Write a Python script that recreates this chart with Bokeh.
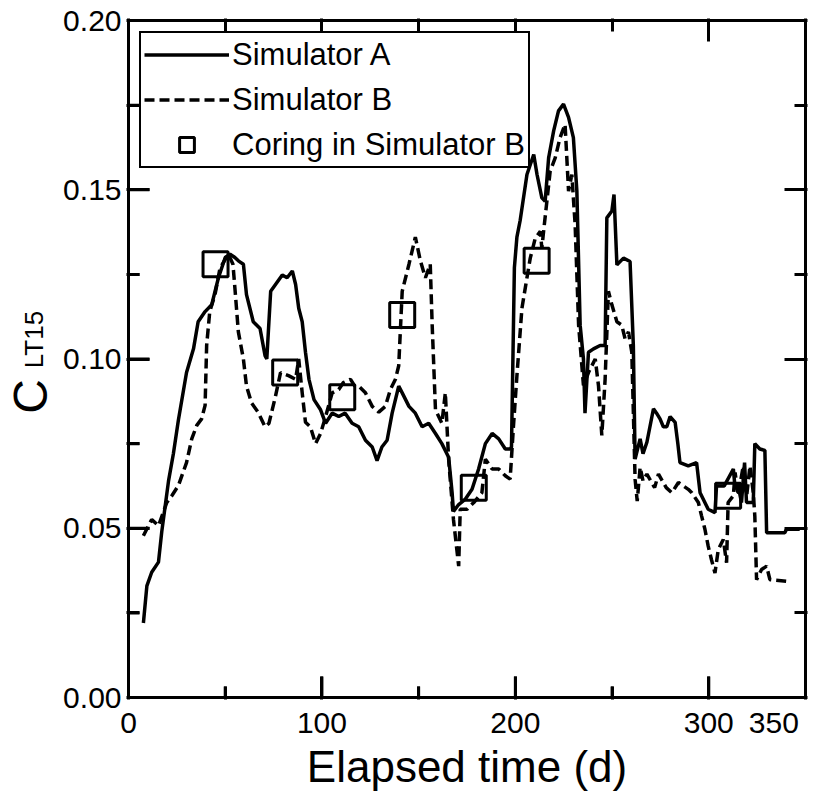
import math
from bokeh.plotting import figure
from bokeh.layouts import row, column
from bokeh.models import (Range1d, FixedTicker, LinearAxis, PrintfTickFormatter,
                          CustomJSTickFormatter, Legend, LegendItem)
from bokeh.embed import file_html
from bokeh.resources import INLINE

# ---------------- data ----------------
sim_a_t = [7.7, 9.5, 12, 15.5, 17.2, 20.7, 23.2, 25.8, 30, 33.6, 36, 39.6, 43, 46.5,
           50, 52.5, 55, 56.8, 59.4, 61, 64.5, 68, 70.6, 71.5, 73.5, 76, 79.5, 82,
           84.7, 86.4, 88, 89.8, 91.5, 93.3, 95.9, 99.3, 101.9, 105.3, 108.7, 112,
           115.6, 119, 122.5, 126, 128.5, 131, 133.7, 136.3, 139.7, 141.5, 145, 148.3,
           151.8, 155.2, 158.7, 162, 165.5, 167.3, 168, 170.7, 174, 177.6, 181, 184.5,
           188, 191.4, 194.8, 197.3, 198, 199.5, 200.8, 202.5, 206, 209.5, 211.2,
           213.7, 215.4, 217.2, 219.8, 222.3, 224.9, 227.5, 230, 231.8, 233.5, 235.2,
           236, 237.8, 240.4, 243.8, 246.4, 247.3, 249.9, 251, 252.5, 255.9, 259.3,
           261, 261.9, 264.5, 266, 268, 271.4, 273, 274.8, 276.5, 278.3, 280, 282.6,
           284, 285.1, 289.4, 293.7, 295.5, 299.7, 303.2, 304, 308, 312.7, 313.5,
           315.2, 316.9, 318.5, 319.5, 323, 323.8, 326.4, 329, 329.9, 339.3, 340.2, 347]
sim_a_c = [0.022, 0.033, 0.037, 0.040, 0.049, 0.064, 0.072, 0.082, 0.096, 0.103, 0.111,
           0.114, 0.116, 0.124, 0.130, 0.131, 0.130, 0.129, 0.128, 0.119, 0.111, 0.109,
           0.101, 0.100, 0.120, 0.122, 0.1248, 0.124, 0.126, 0.122, 0.115, 0.111, 0.102,
           0.094, 0.088, 0.085, 0.081, 0.084, 0.083, 0.084, 0.081, 0.080, 0.076, 0.074,
           0.070, 0.074, 0.076, 0.084, 0.092, 0.090, 0.086, 0.084, 0.080, 0.081, 0.078,
           0.075, 0.071, 0.0605, 0.055, 0.057, 0.0585, 0.0615, 0.0675, 0.075, 0.078,
           0.0764, 0.0734, 0.0734, 0.074, 0.127, 0.136, 0.141, 0.1545, 0.1604, 0.1545,
           0.1476, 0.1466, 0.1594, 0.1674, 0.1733, 0.1753, 0.1714, 0.1654, 0.1496,
           0.110, 0.100, 0.084, 0.102, 0.103, 0.104, 0.104, 0.1417, 0.1437, 0.1486,
           0.1278, 0.1298, 0.1288, 0.104, 0.0704, 0.0764, 0.072, 0.0754, 0.0853, 0.084,
           0.0823, 0.080, 0.080, 0.083, 0.0813, 0.075, 0.0694, 0.0684, 0.0694, 0.0605,
           0.0556, 0.0546, 0.0625, 0.0625, 0.0675, 0.0625, 0.0625, 0.0576, 0.0694,
           0.0576, 0.0576, 0.075, 0.0734, 0.073, 0.0487, 0.0487, 0.0497, 0.0497]

sim_b_t = [7.7, 12, 15.5, 19.8, 22.4, 25.8, 30, 32.7, 35.3, 37.8, 39.6, 40.4, 42, 44.7,
           47.3, 51.6, 54, 55, 56.8, 59.4, 61, 63.6, 67, 70.6, 72.6, 76, 78.6, 83, 86.4,
           88, 89.8, 91.5, 94, 96.7, 99.3, 101.9, 105.3, 108.7, 111, 114.8, 117, 119,
           122.5, 126, 129.4, 132.8, 135.4, 138, 139.7, 141.5, 145, 148.3, 150.9, 153.5,
           156, 157, 158.7, 162, 163.8, 165.5, 168, 170.7, 171.5, 175, 178.5, 182.7,
           184.5, 188, 191.4, 194.8, 197.3, 199, 200.8, 203.4, 206, 207.7, 210.3, 212.9,
           213.7, 214.6, 218, 220.6, 223.1, 225.7, 227.5, 229.2, 230.9, 232.7, 235.2,
           237.8, 241.3, 243, 244.7, 246.4, 248.1, 249.9, 252.5, 255, 256.7, 258.5,
           260.2, 261.9, 263, 264.5, 266, 268, 270, 272, 274, 276, 278, 280.9, 284.3,
           289.4, 291.2, 294.6, 296.3, 298, 299.7, 301.4, 303.2, 304.9, 307.5, 309.2,
           310, 312.7, 313.6, 315.2, 317.8, 319.6, 321.3, 323, 323.8, 324.7, 327.3,
           329.9, 331.6, 340.2]
sim_b_c = [0.0478, 0.0526, 0.0507, 0.0576, 0.0596, 0.0626, 0.0694, 0.0764, 0.0804,
           0.0823, 0.0863, 0.104, 0.114, 0.119, 0.1268, 0.131, 0.128, 0.121, 0.108,
           0.100, 0.092, 0.087, 0.0843, 0.080, 0.081, 0.089, 0.096, 0.095, 0.094, 0.100,
           0.090, 0.0813, 0.080, 0.075, 0.078, 0.083, 0.090, 0.091, 0.093, 0.094, 0.092,
           0.092, 0.090, 0.086, 0.0843, 0.086, 0.091, 0.094, 0.098, 0.120, 0.128, 0.136,
           0.129, 0.124, 0.128, 0.110, 0.085, 0.081, 0.090, 0.0704, 0.0526, 0.0388,
           0.0556, 0.0556, 0.0576, 0.0605, 0.0704, 0.0675, 0.0675, 0.0655, 0.0645,
           0.080, 0.095, 0.115, 0.124, 0.1298, 0.1357, 0.1377, 0.1327, 0.1377, 0.1555,
           0.1594, 0.1654, 0.1693, 0.1496, 0.1545, 0.1397, 0.110, 0.0922, 0.096, 0.100,
           0.092, 0.0774, 0.094, 0.120, 0.116, 0.111, 0.110, 0.106, 0.108, 0.102,
           0.0645, 0.058, 0.068, 0.064, 0.066, 0.064, 0.062, 0.066, 0.064, 0.062,
           0.0605, 0.0635, 0.0615, 0.0605, 0.0576, 0.0536, 0.0497, 0.0447, 0.0407,
           0.0368, 0.0437, 0.0467, 0.0398, 0.0576, 0.0596, 0.0665, 0.0596, 0.0684,
           0.0596, 0.0684, 0.0605, 0.0536, 0.0348, 0.0378, 0.0388, 0.0348, 0.0343]

coring_t = [45, 81, 110.5, 141.5, 178.5, 211, 310]
coring_c = [0.128, 0.096, 0.0887, 0.113, 0.062, 0.129, 0.0596]

x_major = [0, 100, 200, 300, 350]
x_minor = [50, 150, 250]
y_major = [0.0, 0.05, 0.10, 0.15, 0.20]
y_minor = [0.025, 0.075, 0.125, 0.175]

y_label_main = "C"
y_label_sub = "LT15"
x_label = "Elapsed time (d)"

FONT = "Liberation Sans"
LABEL_W = 60
H = 797

p = figure(width=815 - LABEL_W, height=H, output_backend="svg", toolbar_location=None,
           x_range=Range1d(0, 350), y_range=Range1d(0, 0.2),
           min_border_left=126 - LABEL_W, min_border_right=10, min_border_top=20,
           min_border_bottom=100, x_axis_location=None, y_axis_location=None)
p.background_fill_color = "white"
p.border_fill_color = "white"
p.grid.visible = False
p.outline_line_color = "black"
p.outline_line_width = 3

blank = CustomJSTickFormatter(code="return ''")


def tick_axis(ticks, minor):
    """Axis that draws the frame line and inward ticks only (no visible labels)."""
    ax = LinearAxis(ticker=FixedTicker(ticks=ticks, minor_ticks=minor), formatter=blank)
    ax.axis_line_width = 3
    ax.axis_line_color = "black"
    ax.major_tick_line_width = 3
    ax.minor_tick_line_width = 3
    ax.major_tick_line_color = "black"
    ax.minor_tick_line_color = "black"
    ax.major_tick_in = 21
    ax.major_tick_out = 2
    ax.minor_tick_in = 11
    ax.minor_tick_out = 2
    ax.major_label_text_font = FONT
    ax.major_label_text_font_size = "30px"
    ax.major_label_standoff = 0
    return ax


def label_axis(ticks, **kw):
    """Axis that carries only the tick labels (its own line and ticks hidden)."""
    ax = LinearAxis(ticker=FixedTicker(ticks=ticks), **kw)
    ax.axis_line_color = None
    ax.major_tick_line_color = None
    ax.minor_tick_line_color = None
    ax.major_tick_in = 0
    ax.major_tick_out = 0
    ax.minor_tick_in = 0
    ax.minor_tick_out = 0
    ax.major_label_text_font = FONT
    ax.major_label_text_color = "black"
    ax.major_label_text_font_size = "30px"
    return ax


# ticks on all four sides (added first so they sit on the frame edges)
p.add_layout(tick_axis(x_major, x_minor), "below")
p.add_layout(tick_axis(x_major, x_minor), "above")
p.add_layout(tick_axis(y_major, y_minor), "left")
p.add_layout(tick_axis(y_major, y_minor), "right")

# inward tick marks on the left and bottom edges, drawn as screen-length rays
# starting at the tick positions of the axes (length in pixels)
x0, y0 = p.x_range.start, p.y_range.start
p.ray(x=[x0] * len(y_major), y=y_major, length=21, length_units="screen", angle=0,
      line_color="black", line_width=3)
p.ray(x=[x0] * len(y_minor), y=y_minor, length=11, length_units="screen", angle=0,
      line_color="black", line_width=3)
p.ray(x=x_major, y=[y0] * len(x_major), length=21, length_units="screen",
      angle=math.pi / 2, line_color="black", line_width=3)
p.ray(x=x_minor, y=[y0] * len(x_minor), length=11, length_units="screen",
      angle=math.pi / 2, line_color="black", line_width=3)

# tick labels and axis title
xb = label_axis(x_major)
xb.major_label_standoff = 6
xb.major_label_overrides = {350: "350\u00a0\u00a0"}
xb.axis_label = x_label
xb.axis_label_text_font = FONT
xb.axis_label_text_font_size = "44px"
xb.axis_label_text_font_style = "normal"
xb.axis_label_text_color = "black"
xb.axis_label_standoff = 0
p.add_layout(xb, "below")

yl = label_axis(y_major, formatter=PrintfTickFormatter(format="%.2f"))
yl.major_label_standoff = 5
p.add_layout(yl, "left")

ra = p.line(sim_a_t, sim_a_c, line_color="black", line_width=3.5)
rb = p.line(sim_b_t, sim_b_c, line_color="black", line_width=3.5, line_dash="10 5")
rc = p.scatter(coring_t, coring_c, marker="square", size=25, fill_alpha=0,
               line_color="black", line_width=3)

legend = Legend(items=[LegendItem(label="Simulator A", renderers=[ra]),
                       LegendItem(label="Simulator B", renderers=[rb]),
                       LegendItem(label="Coring in Simulator B", renderers=[rc])],
                location="top_left")
legend.margin = 11
legend.padding = 3
legend.spacing = 8
legend.glyph_width = 85
legend.glyph_height = 37
legend.label_height = 37
legend.label_standoff = 3
legend.label_text_font = FONT
legend.label_text_font_size = "31px"
legend.label_text_color = "black"
legend.border_line_color = "black"
legend.border_line_alpha = 1.0
legend.border_line_width = 2
legend.background_fill_color = "white"
legend.background_fill_alpha = 1.0
p.add_layout(legend)


# ---- y-axis title "C" with subscript "LT15": two slim panels stacked on the left ----
def title_panel(text, size, height, top, bottom, standoff):
    f = figure(width=LABEL_W, height=height, output_backend="svg", toolbar_location=None,
               x_range=Range1d(0, 1), y_range=Range1d(0, 1),
               min_border_left=48, min_border_right=0, min_border_top=top,
               min_border_bottom=bottom, x_axis_location=None, y_axis_location=None)
    f.grid.visible = False
    f.outline_line_color = None
    f.background_fill_color = "white"
    f.border_fill_color = "white"
    ax = LinearAxis(ticker=FixedTicker(ticks=[]), formatter=blank)
    ax.axis_line_color = None
    ax.major_tick_line_color = None
    ax.minor_tick_line_color = None
    ax.major_tick_out = 0
    ax.major_label_standoff = 0
    ax.axis_label = text
    ax.axis_label_text_font = FONT
    ax.axis_label_text_font_size = size
    ax.axis_label_text_font_style = "normal"
    ax.axis_label_text_color = "black"
    ax.axis_label_standoff = standoff
    f.add_layout(ax, "left")
    return f


sub_panel = title_panel(y_label_sub, "26px", 372, 306, 0, 8)
main_panel = title_panel(y_label_main, "48px", H - 372, 0, 377, 0)

layout = row(column(sub_panel, main_panel, spacing=0), p, spacing=0)
open("out.html", "w").write(file_html(layout, INLINE))
